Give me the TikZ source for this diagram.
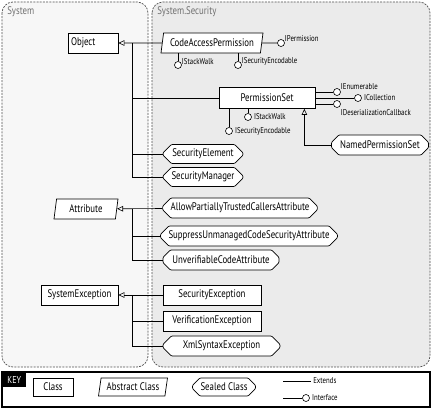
\documentclass[tikz,border=0pt]{standalone}
\usepackage{fontspec}
\setmainfont[FakeStretch=0.8]{PT Sans}
\usetikzlibrary{positioning,shapes.geometric,shapes.misc,arrows.meta}
\definecolor{sysfill}{HTML}{F7F7F7}
\definecolor{secfill}{HTML}{EBEBEB}
\definecolor{regline}{HTML}{505050}
\definecolor{regtext}{HTML}{707070}
\tikzset{
  cls/.style={draw, fill=white, line width=0.7pt, minimum height=20pt, inner xsep=3pt, inner ysep=0pt, font=\fontsize{11}{13}\selectfont},
  abstractcls/.style={cls, trapezium, trapezium left angle=72, trapezium right angle=108, trapezium stretches body},
  sealedcls/.style={cls, chamfered rectangle, chamfered rectangle xsep=5pt, rounded corners=1pt},
  iface/.style={circle, draw, fill=white, line width=0.6pt, inner sep=0pt, minimum size=7pt},
  ifacetext/.style={inner sep=1pt, font=\fontsize{8.5}{10}\selectfont},
  extends/.style={-{Triangle[open, length=6pt, width=5.5pt]}},
  region/.style={draw=regline, dashed, dash pattern=on 2pt off 1.2pt, line width=0.7pt, rounded corners=11pt},
  regionlabel/.style={anchor=west, text=regtext, inner sep=0pt, font=\fontsize{11}{13}\selectfont},
}
\begin{document}
\begin{tikzpicture}[x=1pt, y=-1pt, line width=0.6pt]
    \useasboundingbox (0,0) rectangle (432,409);

    % namespaces
    \draw [region, fill=sysfill] (2,2) rectangle (148,367);
    \draw [region, fill=secfill] (152,2) rectangle (430,367);
    \node [regionlabel] (sysname) at (7,12) {System};
    \node [regionlabel] (secname) at (157,12) {System.Security};

    % Object and its children
    \node [cls, text width=44pt, align=left] (obj) at (93,43) {Object};
    \node [abstractcls, minimum width=102pt] (cap) at (212,43) {CodeAccessPermission};
    \node [cls, minimum width=96pt, minimum height=21pt] (ps) at (267,98) {PermissionSet};
    \node [sealedcls, minimum width=97pt] (nps) at (380,145) {NamedPermissionSet};
    \node [sealedcls, minimum width=80pt, minimum height=19pt] (secel) at (203,154) {SecurityElement};
    \node [sealedcls, minimum width=80pt, minimum height=19pt] (secman) at (203,177) {SecurityManager};
    \coordinate (objtrunk) at (132,43);
    \draw [extends] (cap) -- (obj);
    \draw (ps.west) -| (objtrunk);
    \draw (secel.west) -| (objtrunk);
    \draw (secman.west) -| (objtrunk);
    \draw [extends] (nps.west) -| ([xshift=-11pt]ps.south east);

    % interfaces of CodeAccessPermission
    \node [iface] (capip) at (281,43) {};
    \node [iface] (capisw) at (178,65) {};
    \node [iface] (capise) at (238,65) {};
    \draw (cap.east) -- (capip);
    \draw (cap.south -| capisw) -- (capisw);
    \draw (cap.south -| capise) -- (capise);
    \node [ifacetext, above right=-3pt and 0pt of capip] {IPermission};
    \node [ifacetext, above right=-4pt and 0pt of capisw] {IStackWalk};
    \node [ifacetext, above right=-4pt and 0pt of capise] {ISecurityEncodable};

    % interfaces of PermissionSet
    \node [iface] (ienum) at (337,92) {};
    \node [iface] (icoll) at (358,98) {};
    \node [iface] (ideser) at (337,104) {};
    \node [iface] (psisw) at (248,117) {};
    \node [iface] (psise) at (229,131) {};
    \draw (ps.east |- ienum) -- (ienum);
    \draw (ps.east |- icoll) -- (icoll);
    \draw (ps.east |- ideser) -- (ideser);
    \draw (ps.south -| psisw) -- (psisw);
    \draw (ps.south -| psise) -- (psise);
    \node [ifacetext, above right=-2pt and 0pt of ienum] {IEnumerable};
    \node [ifacetext, right=1pt of icoll] {ICollection};
    \node [ifacetext, below right=1pt and 0pt of ideser] {IDeserializationCallback};
    \node [ifacetext, right=1pt of psisw] {IStackWalk};
    \node [ifacetext, right=1pt of psise] {ISecurityEncodable};

    % Attribute and its children
    \node [abstractcls, minimum width=64pt] (attr) at (86,209) {Attribute};
    \node [sealedcls, minimum width=154pt] (aptca) at (240,208) {AllowPartiallyTrustedCallersAttribute};
    \node [sealedcls, minimum width=172pt] (sucsa) at (249,236) {SuppressUnmanagedCodeSecurityAttribute};
    \node [sealedcls, minimum width=116pt] (uca) at (221,260) {UnverifiableCodeAttribute};
    \coordinate (attrtrunk) at (132,209);
    \draw [extends] (aptca) -- (attr);
    \draw (sucsa.west) -| (attrtrunk);
    \draw (uca.west) -| (attrtrunk);

    % SystemException and its children
    \node [cls, minimum width=77pt] (sysex) at (79.5,295) {SystemException};
    \node [cls, minimum width=98pt] (secex) at (212,295) {SecurityException};
    \node [cls, minimum width=98pt] (verex) at (212,321) {VerificationException};
    \node [sealedcls, minimum width=117pt] (xmlex) at (221.5,346) {XmlSyntaxException};
    \coordinate (sysextrunk) at (132,295);
    \draw [extends] (secex) -- (sysex);
    \draw (verex.west) -| (sysextrunk);
    \draw (xmlex.west) -| (sysextrunk);

    % key
    \draw [line width=1.2pt, fill=white] (2,372) rectangle (430,407);
    \node [fill=black, text=white, anchor=north west, minimum width=24pt, minimum height=15pt, inner sep=1pt, font=\fontsize{10}{12}\selectfont] (keyname) at (2,372) {KEY};
    \node [cls, minimum width=40pt, minimum height=18pt] (keycls) at (53,387) {Class};
    \node [abstractcls, minimum width=69pt, minimum height=18pt] (keyabs) at (133,387) {Abstract Class};
    \node [sealedcls, minimum width=63pt, minimum height=18pt] (keysealed) at (224,387) {Sealed Class};
    \coordinate (extA) at (283,381);
    \coordinate (extB) at (311,381);
    \draw (extA) -- (extB);
    \node [ifacetext, right=1pt of extB] {Extends};
    \coordinate (ifA) at (283,398);
    \node [iface] (keyiface) at (306,398) {};
    \draw (ifA) -- (keyiface);
    \node [ifacetext, right=1pt of keyiface] {Interface};
  \end{tikzpicture}
\end{document}
